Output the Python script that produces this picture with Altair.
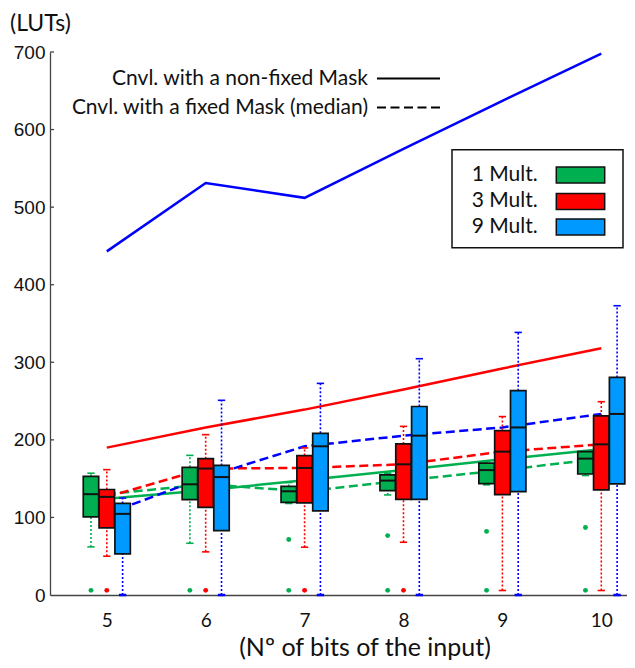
import altair as alt
import pandas as pd

# ---------------- data ----------------
bits = [5, 6, 7, 8, 9, 10]
series = ["1 Mult.", "3 Mult.", "9 Mult."]
y_ticks = [0, 100, 200, 300, 400, 500, 600, 700]

# Cnvl. with a non-fixed Mask (solid lines)
nonfixed_1 = [124, 135, 148, 161, 175, 188]
nonfixed_3 = [190, 216, 239, 265, 292, 318]
nonfixed_9 = [443, 531, 512, 575, 637, 698]

# Cnvl. with a fixed Mask: box statistics (q1, median, q3, lower whisker, upper whisker)
q1_1 = [100.7, 123.0, 119.5, 134.6, 143.6, 156.0]
med_1 = [130.0, 142.7, 133.7, 147.5, 161.0, 175.8]
q3_1 = [153.0, 164.6, 140.0, 154.8, 170.0, 184.8]
wlo_1 = [62.0, 66.7, 118.0, 129.0, 142.0, 154.0]
whi_1 = [157.0, 180.0, 145.0, 157.0, 172.0, 186.0]

q1_3 = [86.5, 113.0, 118.7, 123.4, 129.4, 135.5]
med_3 = [126.5, 163.0, 163.8, 168.5, 184.8, 194.2]
q3_3 = [136.0, 175.8, 179.7, 194.7, 212.0, 230.8]
wlo_3 = [50.0, 55.6, 61.6, 68.0, 5.8, 5.8]
whi_3 = [161.6, 206.7, 189.6, 217.4, 230.0, 249.2]

q1_9 = [53.0, 83.0, 108.4, 123.4, 133.3, 143.2]
med_9 = [104.6, 152.0, 191.7, 205.4, 216.0, 233.4]
q3_9 = [118.0, 167.0, 208.4, 243.0, 263.4, 280.5]
wlo_9 = [0.0, 0.0, 0.0, 0.0, 0.0, 0.0]
whi_9 = [125.0, 251.0, 272.8, 304.6, 338.5, 372.9]

# outliers
out_bits_1 = [5, 6, 7, 8, 9, 10, 7, 8, 9, 10]
out_val_1 = [6, 6, 6, 6, 6, 6, 71.5, 76.6, 82, 87]
out_bits_3 = [5, 6, 7, 8]
out_val_3 = [6, 6, 6, 6]
out_bits_9 = []
out_val_9 = []

legend_lines = ["Cnvl. with a non-fixed Mask", "Cnvl. with a fixed Mask (median)"]
y_title = "(LUTs)"
x_title = "(Nº of bits of the input)"

# ---------------- styles ----------------
box_fill = ["#00b050", "#ff0000", "#0099ff"]
line_col = ["#00b050", "#ff0000", "#0000ff"]
offsets = [-0.16, 0.0, 0.16]
HALF_BOX = 0.078
HALF_CAP = 0.037
FONT = "Lato"

xscale = alt.Scale(domain=[4.4257, 10.26], nice=False, zero=False)
yscale = alt.Scale(domain=[0, 700], nice=False, zero=False)

xaxis = alt.Axis(values=bits, title=None, grid=False, ticks=False, tickSize=0,
                 labelFont=FONT, labelFontSize=19, labelColor="#111111",
                 labelPadding=25, labelBaseline="middle", labelFlush=False,
                 labelOverlap=False, domainColor="#444444", domainWidth=1.3)
yaxis = alt.Axis(values=y_ticks, title=None, grid=False, ticks=False, tickSize=0,
                 labelFont="Liberation Sans", labelFontSize=19, labelColor="#111111",
                 labelPadding=5, labelFlush=False, labelOverlap=False,
                 domainColor="#444444", domainWidth=1.3)


def X(field):
    return alt.X(field, type="quantitative", scale=xscale, axis=xaxis)


def Y(field):
    return alt.Y(field, type="quantitative", scale=yscale, axis=yaxis)


nonfixed = [nonfixed_1, nonfixed_3, nonfixed_9]
stats = [
    (q1_1, med_1, q3_1, wlo_1, whi_1),
    (q1_3, med_3, q3_3, wlo_3, whi_3),
    (q1_9, med_9, q3_9, wlo_9, whi_9),
]
outs = [(out_bits_1, out_val_1), (out_bits_3, out_val_3), (out_bits_9, out_val_9)]

layers = []

# y ticks pointing inward
tick_df = pd.DataFrame({"v": y_ticks[1:]})
layers.append(
    alt.Chart(tick_df).mark_rule(color="#444444", strokeWidth=1.3)
    .encode(x=alt.value(0), x2=alt.value(4), y=Y("v"))
)

# solid lines (non-fixed mask)
for i, s in enumerate(series):
    df = pd.DataFrame({"bits": bits, "v": nonfixed[i]})
    layers.append(
        alt.Chart(df).mark_line(color=line_col[i], strokeWidth=2.5)
        .encode(x=X("bits"), y=Y("v"))
    )

# dashed lines (fixed mask, median)
for i, s in enumerate(series):
    df = pd.DataFrame({"bits": bits, "v": stats[i][1]})
    layers.append(
        alt.Chart(df).mark_line(color=line_col[i], strokeWidth=2.5, strokeDash=[9, 4.5])
        .encode(x=X("bits"), y=Y("v"))
    )

# boxes
for i, s in enumerate(series):
    q1, med, q3, wlo, whi = stats[i]
    df = pd.DataFrame({"bits": bits, "q1": q1, "med": med, "q3": q3,
                       "wlo": wlo, "whi": whi})
    base = alt.Chart(df).transform_calculate(
        xc=f"datum.bits + ({offsets[i]})",
        xl=f"datum.bits + ({offsets[i]}) - {HALF_BOX}",
        xr=f"datum.bits + ({offsets[i]}) + {HALF_BOX}",
        cl=f"datum.bits + ({offsets[i]}) - {HALF_CAP}",
        cr=f"datum.bits + ({offsets[i]}) + {HALF_CAP}",
    )
    layers.append(base.mark_rule(color=line_col[i], strokeWidth=1.6, strokeDash=[2, 2])
                  .encode(x=X("xc"), y=Y("q3"), y2="whi"))
    layers.append(base.mark_rule(color=line_col[i], strokeWidth=1.6, strokeDash=[2, 2])
                  .encode(x=X("xc"), y=Y("wlo"), y2="q1"))
    layers.append(base.mark_rule(color=line_col[i], strokeWidth=1.6)
                  .encode(x=X("cl"), x2="cr", y=Y("whi")))
    layers.append(base.mark_rule(color=line_col[i], strokeWidth=1.6 if i < 2 else 2.5)
                  .encode(x=X("cl"), x2="cr", y=Y("wlo")))
    layers.append(base.mark_rect(fill=box_fill[i], stroke="#111111", strokeWidth=1.7)
                  .encode(x=X("xl"), x2="xr", y=Y("q1"), y2="q3"))
    layers.append(base.mark_rule(color="#111111", strokeWidth=2)
                  .encode(x=X("xl"), x2="xr", y=Y("med")))

# outliers
for i, s in enumerate(series):
    ob, ov = outs[i]
    if not ob:
        continue
    df = pd.DataFrame({"bits": ob, "v": ov})
    layers.append(
        alt.Chart(df).transform_calculate(xc=f"datum.bits + ({offsets[i]})")
        .mark_circle(color=line_col[i], size=24, opacity=1)
        .encode(x=X("xc"), y=Y("v"))
    )

# axis titles as text
layers.append(
    alt.Chart(pd.DataFrame({"t": [y_title]})).mark_text(
        align="left", baseline="middle", font=FONT, fontSize=23, color="#111111")
    .encode(text="t:N", x=alt.value(-40), y=alt.value(-28))
)
layers.append(
    alt.Chart(pd.DataFrame({"t": [x_title]})).mark_text(
        align="center", baseline="middle", font=FONT, fontSize=25, color="#111111")
    .encode(text="t:N", x=alt.value(315), y=alt.value(596))
)

# line-style legend
for j, (lab, ypos) in enumerate(zip(legend_lines, [26.5, 55.5])):
    layers.append(
        alt.Chart(pd.DataFrame({"t": [lab]})).mark_text(
            align="right", baseline="middle", font=FONT, fontSize=21, color="#111111")
        .encode(text="t:N", x=alt.value(318), y=alt.value(ypos))
    )
    rule_kw = dict(color="#000000", strokeWidth=2.2)
    if j == 1:
        rule_kw["strokeDash"] = [9, 4.5]
    layers.append(
        alt.Chart(pd.DataFrame({"t": [lab]})).mark_rule(**rule_kw)
        .encode(x=alt.value(327), x2=alt.value(390), y=alt.value(ypos))
    )

# box legend
layers.append(
    alt.Chart(pd.DataFrame({"t": ["frame"]})).mark_rect(
        fill="white", stroke="#111111", strokeWidth=1.5)
    .encode(x=alt.value(402), x2=alt.value(573), y=alt.value(97.7), y2=alt.value(195.7))
)
for i, (s, ypos) in enumerate(zip(series, [123.0, 149.4, 174.9])):
    layers.append(
        alt.Chart(pd.DataFrame({"t": [s]})).mark_text(
            align="left", baseline="middle", font=FONT, fontSize=21, color="#111111")
        .encode(text="t:N", x=alt.value(421.7), y=alt.value(ypos))
    )
    layers.append(
        alt.Chart(pd.DataFrame({"t": [s]})).mark_rect(
            fill=box_fill[i], stroke="#111111", strokeWidth=1.5)
        .encode(x=alt.value(506.3), x2=alt.value(554.7),
                y=alt.value(ypos - 8), y2=alt.value(ypos + 8))
    )

chart = alt.layer(*layers).properties(
    width=577, height=543,
    autosize=alt.AutoSizeParams(type="none"),
    padding={"left": 42, "top": 44, "right": 0, "bottom": 65},
    background="white",
).configure_view(stroke=None)

chart.save("out.html", embed_options={"renderer": "svg", "actions": False})
